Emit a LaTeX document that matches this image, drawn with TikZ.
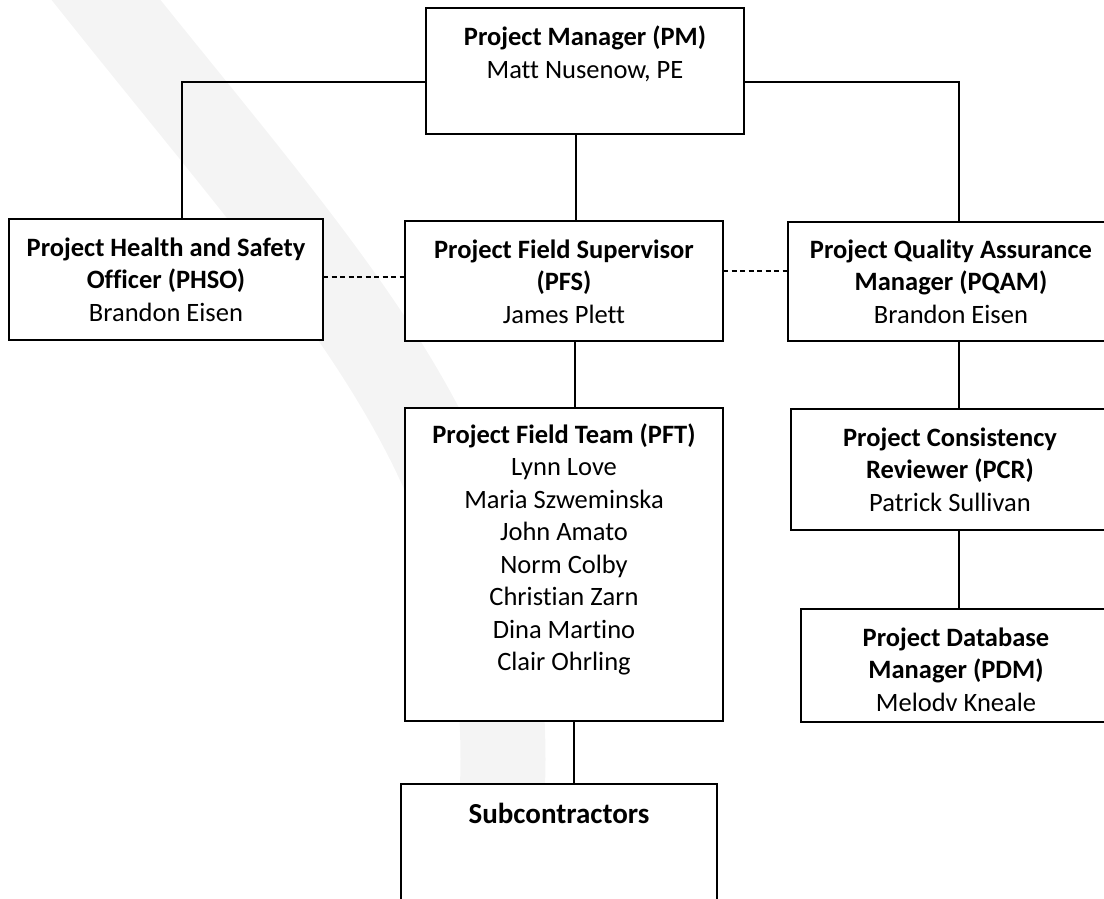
\documentclass[tikz,border=0pt]{standalone}
\usepackage{fontspec}
\setmainfont{Carlito}[Ligatures=NoCommon]
\definecolor{wmgray}{RGB}{244,244,244}
\newcommand{\boxlines}[1]{\begin{tabular}[t]{@{}c@{}}#1\end{tabular}}
\begin{document}
\begin{tikzpicture}[x=1pt,y=-1pt,
  box/.style={draw=black, line width=2pt, fill=white, inner sep=0pt, outer sep=0pt, anchor=north west, rectangle},
  conn/.style={draw=black, line width=1.5pt},
  dashconn/.style={draw=black, line width=1.2pt, dash pattern=on 5pt off 3.5pt},
  txt/.style={anchor=base, inner sep=0pt, font=\fontsize{26.5}{32.5}\selectfont},
  bigtxt/.style={anchor=base, inner sep=0pt, font=\fontsize{29}{35}\selectfont},
  wm/.style={draw=wmgray, line width=85pt}]
\useasboundingbox (0,0) rectangle (1104,899);
\clip (0,0) rectangle (1104,899);

% faint watermark band
\draw[wm] (58,-60) -- (106,0) .. controls (346,300) and (503,460) .. (503,760) -- (500,960);

% boxes
\node[box, minimum width=318pt, minimum height=126pt] (pm)   at (426,8)   {};
\node[box, minimum width=314pt, minimum height=121pt] (phso) at (9,219)   {};
\node[box, minimum width=318pt, minimum height=120pt] (pfs)  at (405,221) {};
\node[box, minimum width=326pt, minimum height=119pt] (pqam) at (788,222) {};
\node[box, minimum width=318pt, minimum height=121pt] (pcr)  at (791,409) {};
\node[box, minimum width=310pt, minimum height=113pt] (pdm)  at (801,609) {};
\node[box, minimum width=318pt, minimum height=313pt] (pft)  at (405,408) {};
\node[box, minimum width=316pt, minimum height=170pt] (sub)  at (401,784) {};

% texts
\node[txt] (pmT)   at (585,46)  {\boxlines{\textbf{Project Manager (PM)}\\Matt Nusenow, PE}};
\node[txt] (phsoT) at (166,256) {\boxlines{\textbf{Project Health and Safety}\\\textbf{Officer (PHSO)}\\Brandon Eisen}};
\node[txt] (pfsT)  at (564,258) {\boxlines{\textbf{Project Field Supervisor}\\\textbf{(PFS)}\\James Plett}};
\node[txt] (pqamT) at (951,258) {\boxlines{\textbf{Project Quality Assurance}\\\textbf{Manager (PQAM)}\\Brandon Eisen}};
\node[txt] (pcrT)  at (950,446) {\boxlines{\textbf{Project Consistency}\\\textbf{Reviewer (PCR)}\\Patrick Sullivan}};
\node[txt] (pdmT)  at (956,646) {\boxlines{\textbf{Project Database}\\\textbf{Manager (PDM)}\\Melodv Kneale}};
\node[txt] (pftT)  at (564,443) {\boxlines{\textbf{Project Field Team (PFT)}\\Lynn Love\\Maria Szweminska\\John Amato\\Norm Colby\\Christian Zarn\\Dina Martino\\Clair Ohrling}};
\node[bigtxt] (subT) at (559,823) {\textbf{Subcontractors}};

% connectors
\draw[conn] ([yshift=-11pt]pm.west) -| ([xshift=16pt]phso.north);
\draw[conn] ([yshift=-11pt]pm.east) -| ([xshift=8pt]pqam.north);
\draw[conn] ([xshift=-9pt]pm.south) -- ([xshift=-9pt]pm.south |- pfs.north);
\draw[conn] ([xshift=11pt]pfs.south) -- ([xshift=11pt]pfs.south |- pft.north);
\draw[conn] ([xshift=10pt]pft.south) -- ([xshift=10pt]pft.south |- sub.north);
\draw[conn] ([xshift=8pt]pqam.south) -- ([xshift=8pt]pqam.south |- pcr.north);
\draw[conn] ([xshift=9pt]pcr.south) -- ([xshift=9pt]pcr.south |- pdm.north);
\draw[dashconn] ([yshift=2.5pt]phso.east) -- ([yshift=2.5pt]phso.east -| pfs.west);
\draw[dashconn] ([yshift=10pt]pfs.east) -- ([yshift=10pt]pfs.east -| pqam.west);
\end{tikzpicture}
\end{document}
